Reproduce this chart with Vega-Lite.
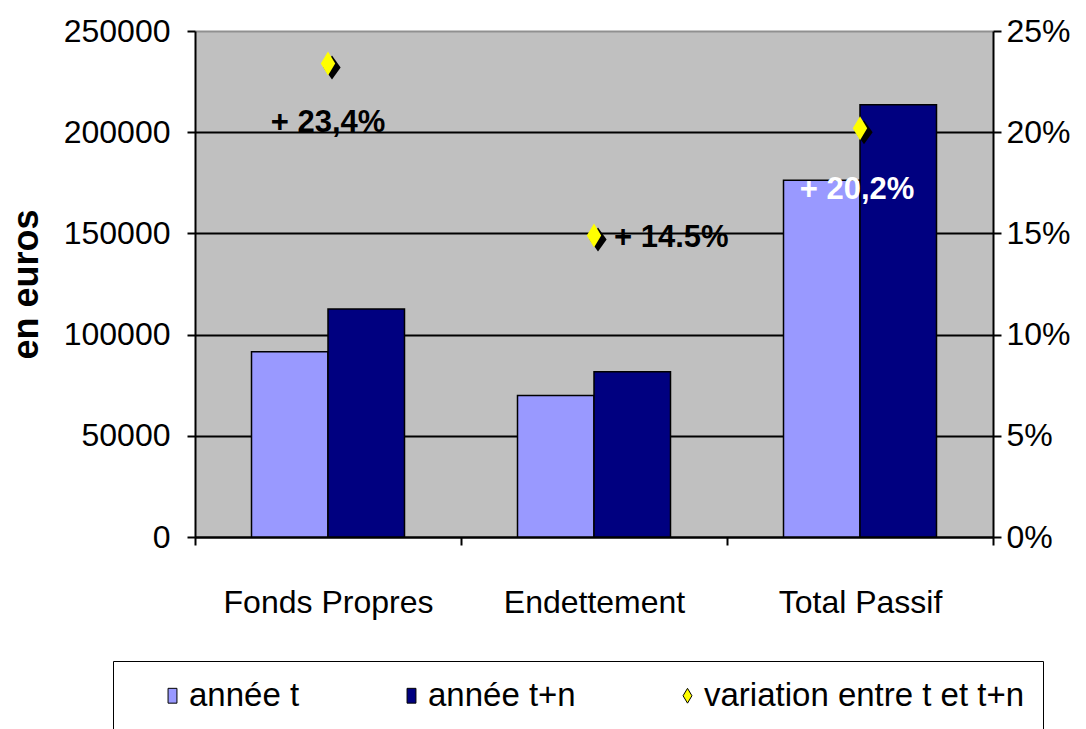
{
  "$schema": "https://vega.github.io/schema/vega-lite/v6.json",
  "width": 798,
  "height": 506,
  "autosize": {"type": "none"},
  "padding": {"left": 195, "top": 31, "right": 93, "bottom": 192},
  "background": "white",
  "config": {
    "view": {"fill": "#C0C0C0", "stroke": null},
    "font": "Liberation Sans",
    "axis": {
      "labelFont": "Liberation Sans",
      "labelFontSize": 32,
      "labelLimit": 400,
      "labelColor": "black",
      "domainColor": "black",
      "domainWidth": 2,
      "tickColor": "black",
      "tickWidth": 2,
      "tickSize": 8
    }
  },
  "datasets": {
    "bars": [
      {"categorie": "Fonds Propres", "serie": "année t", "valeur": 91500},
      {"categorie": "Fonds Propres", "serie": "année t+n", "valeur": 112700},
      {"categorie": "Endettement", "serie": "année t", "valeur": 69900},
      {"categorie": "Endettement", "serie": "année t+n", "valeur": 81700},
      {"categorie": "Total Passif", "serie": "année t", "valeur": 176200},
      {"categorie": "Total Passif", "serie": "année t+n", "valeur": 213600}
    ],
    "var": [
      {"categorie": "Fonds Propres", "serie": "variation entre t et t+n", "variation": 0.234, "label": "+ 23,4%"},
      {"categorie": "Endettement", "serie": "variation entre t et t+n", "variation": 0.149, "label": "+ 14.5%"},
      {"categorie": "Total Passif", "serie": "variation entre t et t+n", "variation": 0.202, "label": "+ 20,2%"}
    ]
  },
  "layer": [
    {
      "data": {"name": "bars"},
      "encoding": {
        "x": {
          "field": "categorie", "type": "nominal",
          "sort": ["Fonds Propres", "Endettement", "Total Passif"],
          "scale": {"paddingInner": 0, "paddingOuter": 0},
          "axis": {"title": null, "labelAngle": 0, "tickBand": "extent", "labelPadding": 42, "grid": false}
        },
        "xOffset": {
          "field": "serie", "type": "nominal",
          "sort": ["année t", "année t+n"],
          "scale": {"paddingInner": 0, "paddingOuter": 0.7386}
        },
        "y": {
          "field": "valeur", "type": "quantitative",
          "scale": {"domain": [0, 250000], "nice": false},
          "axis": {
            "values": [0, 50000, 100000, 150000, 200000, 250000],
            "format": "d",
            "labelPadding": 17,
            "grid": true,
            "gridColor": {"condition": {"test": "datum.value === 250000", "value": "#909090"}, "value": "black"},
            "gridWidth": 2,
            "title": "en euros",
            "titleFont": "Liberation Sans",
            "titleFontWeight": "bold",
            "titleFontSize": 36,
            "titleColor": "black",
            "titlePadding": 18
          }
        }
      },
      "layer": [
        {"mark": {"type": "bar", "fill": "black", "xOffset": 5, "yOffset": 4, "clip": true}},
        {
          "mark": {"type": "bar", "stroke": "black", "strokeWidth": 1.5},
          "encoding": {
            "color": {
              "field": "serie", "type": "nominal",
              "scale": {
                "domain": ["année t", "année t+n", "variation entre t et t+n"],
                "range": ["#9999FF", "#000080", "#FFFF00"]
              },
              "legend": {
                "orient": "none", "legendX": -82, "legendY": 630,
                "direction": "horizontal", "columns": 3, "title": null,
                "labelFont": "Liberation Sans", "labelFontSize": 33, "labelColor": "black", "labelLimit": 500,
                "symbolSize": 220, "symbolStrokeColor": "black", "symbolStrokeWidth": 1,
                "strokeColor": "black", "fillColor": "white", "padding": 18,
                "columnPadding": 70, "symbolOffset": 25, "labelOffset": 0
              }
            }
          }
        }
      ]
    },
    {
      "data": {"name": "var"},
      "encoding": {
        "x": {"field": "categorie", "type": "nominal", "sort": ["Fonds Propres", "Endettement", "Total Passif"]},
        "y": {
          "field": "variation", "type": "quantitative",
          "scale": {"domain": [0, 0.25], "nice": false},
          "axis": {
            "orient": "right",
            "values": [0, 0.05, 0.1, 0.15, 0.2, 0.25],
            "format": ".0%",
            "labelPadding": 5,
            "grid": false,
            "title": null
          }
        }
      },
      "layer": [
        {"mark": {"type": "point", "filled": true, "fill": "black", "opacity": 1, "size": 576, "shape": "M0,-1L0.72,0L0,1L-0.72,0Z", "xOffset": 4, "yOffset": 4}},
        {
          "mark": {"type": "point", "filled": true, "opacity": 1, "size": 576, "strokeWidth": 0},
          "encoding": {
            "color": {
              "field": "serie", "type": "nominal",
              "scale": {
                "domain": ["année t", "année t+n", "variation entre t et t+n"],
                "range": ["#9999FF", "#000080", "#FFFF00"]
              },
              "legend": {
                "orient": "none", "legendX": -82, "legendY": 630,
                "direction": "horizontal", "columns": 3, "title": null,
                "labelFont": "Liberation Sans", "labelFontSize": 33, "labelColor": "black", "labelLimit": 500,
                "symbolSize": 220, "symbolStrokeColor": "black", "symbolStrokeWidth": 1,
                "strokeColor": "black", "fillColor": "white", "padding": 18,
                "columnPadding": 70, "symbolOffset": 25, "labelOffset": 0
              }
            },
            "shape": {
              "field": "serie", "type": "nominal",
              "scale": {
                "domain": ["année t", "année t+n", "variation entre t et t+n"],
                "range": ["M-0.6,-1L0.6,-1L0.6,1L-0.6,1Z", "M-0.6,-1L0.6,-1L0.6,1L-0.6,1Z", "M0,-1L0.6,0L0,1L-0.6,0Z"]
              },
              "legend": {
                "orient": "none", "legendX": -82, "legendY": 630,
                "direction": "horizontal", "columns": 3, "title": null,
                "labelFont": "Liberation Sans", "labelFontSize": 33, "labelColor": "black", "labelLimit": 500,
                "symbolSize": 220, "symbolStrokeColor": "black", "symbolStrokeWidth": 1,
                "strokeColor": "black", "fillColor": "white", "padding": 18,
                "columnPadding": 70, "symbolOffset": 25, "labelOffset": 0
              }
            }
          }
        },
        {
          "transform": [{"filter": "datum.categorie === 'Fonds Propres'"}],
          "mark": {"type": "text", "font": "Liberation Sans", "fontWeight": "bold", "fontSize": 31, "color": "black", "dy": 60},
          "encoding": {"text": {"field": "label"}}
        },
        {
          "transform": [{"filter": "datum.categorie === 'Endettement'"}],
          "mark": {"type": "text", "font": "Liberation Sans", "fontWeight": "bold", "fontSize": 31, "color": "black", "align": "left", "dx": 20, "dy": 3},
          "encoding": {"text": {"field": "label"}}
        },
        {
          "transform": [{"filter": "datum.categorie === 'Total Passif'"}],
          "mark": {"type": "text", "font": "Liberation Sans", "fontWeight": "bold", "fontSize": 31, "color": "white", "dx": -3, "dy": 62},
          "encoding": {"text": {"field": "label"}}
        }
      ]
    }
  ],
  "resolve": {"scale": {"y": "independent"}}
}
